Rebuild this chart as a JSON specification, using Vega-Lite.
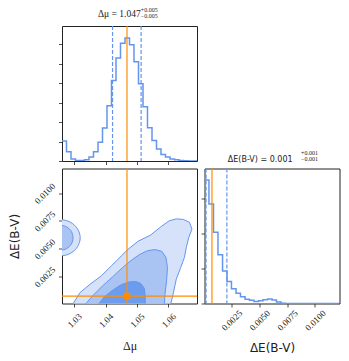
{
  "$schema": "https://vega.github.io/schema/vega-lite/v6.json",
  "background": "white",
  "padding": {"left": 7, "top": 6, "right": 5, "bottom": 5},
  "config": {
    "view": {"stroke": "#222", "strokeWidth": 1},
    "axis": {"domain": false, "grid": false, "tickColor": "#222", "tickSize": 3.5, "tickWidth": 0.8, "labelFont": "Liberation Serif", "labelFontSize": 9, "labelColor": "#222", "labelOverlap": false, "labelAngle": -45, "labelAlign": "center", "labelBaseline": "middle", "titleFont": "DejaVu Sans", "titleFontWeight": "normal", "titleColor": "#222"}
  },
  "datasets": {
    "contours": [
      {"s": "o", "i": 0, "x": 1.0295, "y": 0.0},
      {"s": "o", "i": 1, "x": 1.0318, "y": 0.00105},
      {"s": "o", "i": 2, "x": 1.0350, "y": 0.00180},
      {"s": "o", "i": 3, "x": 1.0386, "y": 0.00256},
      {"s": "o", "i": 4, "x": 1.0418, "y": 0.00345},
      {"s": "o", "i": 5, "x": 1.0450, "y": 0.00435},
      {"s": "o", "i": 6, "x": 1.0471, "y": 0.00494},
      {"s": "o", "i": 7, "x": 1.0504, "y": 0.00568},
      {"s": "o", "i": 8, "x": 1.0543, "y": 0.00622},
      {"s": "o", "i": 9, "x": 1.0575, "y": 0.00695},
      {"s": "o", "i": 10, "x": 1.0602, "y": 0.00750},
      {"s": "o", "i": 11, "x": 1.0625, "y": 0.00768},
      {"s": "o", "i": 12, "x": 1.0647, "y": 0.00763},
      {"s": "o", "i": 13, "x": 1.0667, "y": 0.00737},
      {"s": "o", "i": 14, "x": 1.0675, "y": 0.00676},
      {"s": "o", "i": 15, "x": 1.0665, "y": 0.00602},
      {"s": "o", "i": 16, "x": 1.0657, "y": 0.00512},
      {"s": "o", "i": 17, "x": 1.0651, "y": 0.00422},
      {"s": "o", "i": 18, "x": 1.0639, "y": 0.00331},
      {"s": "o", "i": 19, "x": 1.0625, "y": 0.00226},
      {"s": "o", "i": 20, "x": 1.0616, "y": 0.00105},
      {"s": "o", "i": 21, "x": 1.0607, "y": 0.0},
      {"s": "o", "i": 22, "x": 1.0602, "y": -0.001},
      {"s": "o", "i": 23, "x": 1.0290, "y": -0.001},
      {"s": "m", "i": 0, "x": 1.0335, "y": 0.0},
      {"s": "m", "i": 1, "x": 1.0358, "y": 0.00075},
      {"s": "m", "i": 2, "x": 1.0390, "y": 0.00166},
      {"s": "m", "i": 3, "x": 1.0422, "y": 0.00247},
      {"s": "m", "i": 4, "x": 1.0454, "y": 0.00331},
      {"s": "m", "i": 5, "x": 1.0480, "y": 0.00392},
      {"s": "m", "i": 6, "x": 1.0507, "y": 0.00446},
      {"s": "m", "i": 7, "x": 1.0533, "y": 0.00482},
      {"s": "m", "i": 8, "x": 1.0558, "y": 0.00492},
      {"s": "m", "i": 9, "x": 1.0579, "y": 0.00476},
      {"s": "m", "i": 10, "x": 1.0592, "y": 0.00422},
      {"s": "m", "i": 11, "x": 1.0597, "y": 0.00331},
      {"s": "m", "i": 12, "x": 1.0594, "y": 0.00211},
      {"s": "m", "i": 13, "x": 1.0589, "y": 0.0009},
      {"s": "m", "i": 14, "x": 1.0587, "y": 0.0},
      {"s": "m", "i": 15, "x": 1.0586, "y": -0.001},
      {"s": "m", "i": 16, "x": 1.0330, "y": -0.001},
      {"s": "d", "i": 0, "x": 1.0377, "y": 0.0},
      {"s": "d", "i": 1, "x": 1.0395, "y": 0.00066},
      {"s": "d", "i": 2, "x": 1.0422, "y": 0.00127},
      {"s": "d", "i": 3, "x": 1.0448, "y": 0.00175},
      {"s": "d", "i": 4, "x": 1.0474, "y": 0.00201},
      {"s": "d", "i": 5, "x": 1.0496, "y": 0.00205},
      {"s": "d", "i": 6, "x": 1.0512, "y": 0.00187},
      {"s": "d", "i": 7, "x": 1.0523, "y": 0.00145},
      {"s": "d", "i": 8, "x": 1.0526, "y": 0.00075},
      {"s": "d", "i": 9, "x": 1.0526, "y": 0.0},
      {"s": "d", "i": 10, "x": 1.0526, "y": -0.001},
      {"s": "d", "i": 11, "x": 1.0370, "y": -0.001},
      {"s": "bo", "i": 0, "x": 1.0319, "y": 0.00598},
      {"s": "bo", "i": 1, "x": 1.0310, "y": 0.00680},
      {"s": "bo", "i": 2, "x": 1.0287, "y": 0.00739},
      {"s": "bo", "i": 3, "x": 1.0255, "y": 0.00761},
      {"s": "bo", "i": 4, "x": 1.0223, "y": 0.00739},
      {"s": "bo", "i": 5, "x": 1.0200, "y": 0.00680},
      {"s": "bo", "i": 6, "x": 1.0191, "y": 0.00598},
      {"s": "bo", "i": 7, "x": 1.0200, "y": 0.00516},
      {"s": "bo", "i": 8, "x": 1.0223, "y": 0.00457},
      {"s": "bo", "i": 9, "x": 1.0255, "y": 0.00435},
      {"s": "bo", "i": 10, "x": 1.0287, "y": 0.00457},
      {"s": "bo", "i": 11, "x": 1.0310, "y": 0.00516},
      {"s": "bm", "i": 0, "x": 1.0296, "y": 0.00598},
      {"s": "bm", "i": 1, "x": 1.0291, "y": 0.00654},
      {"s": "bm", "i": 2, "x": 1.0276, "y": 0.00695},
      {"s": "bm", "i": 3, "x": 1.0255, "y": 0.00710},
      {"s": "bm", "i": 4, "x": 1.0235, "y": 0.00695},
      {"s": "bm", "i": 5, "x": 1.0219, "y": 0.00654},
      {"s": "bm", "i": 6, "x": 1.0214, "y": 0.00598},
      {"s": "bm", "i": 7, "x": 1.0219, "y": 0.00542},
      {"s": "bm", "i": 8, "x": 1.0235, "y": 0.00501},
      {"s": "bm", "i": 9, "x": 1.0255, "y": 0.00486},
      {"s": "bm", "i": 10, "x": 1.0276, "y": 0.00501},
      {"s": "bm", "i": 11, "x": 1.0291, "y": 0.00542}
    ]
  },
  "columns": 2,
  "spacing": 7.5,
  "bounds": "flush",
  "concat": [
    {
      "width": 135, "height": 135,
      "layer": [
        {
          "data": {"values": [
            {"x": 1.02610, "y": 1.03}, {"x": 1.02753, "y": 0.48}, {"x": 1.02897, "y": 0.10}, {"x": 1.03040, "y": 0.03},
            {"x": 1.03183, "y": 0.03}, {"x": 1.03327, "y": 0.06}, {"x": 1.03470, "y": 0.20}, {"x": 1.03613, "y": 0.48},
            {"x": 1.03757, "y": 0.96}, {"x": 1.03900, "y": 1.70}, {"x": 1.04043, "y": 2.84}, {"x": 1.04187, "y": 4.14},
            {"x": 1.04330, "y": 5.30}, {"x": 1.04473, "y": 6.05}, {"x": 1.04617, "y": 6.32}, {"x": 1.04760, "y": 5.98},
            {"x": 1.04903, "y": 5.10}, {"x": 1.05047, "y": 3.97}, {"x": 1.05190, "y": 2.79}, {"x": 1.05333, "y": 1.71},
            {"x": 1.05477, "y": 1.06}, {"x": 1.05620, "y": 0.62}, {"x": 1.05763, "y": 0.34}, {"x": 1.05907, "y": 0.20},
            {"x": 1.06050, "y": 0.10}, {"x": 1.06193, "y": 0.07}, {"x": 1.06337, "y": 0.03}, {"x": 1.06480, "y": 0.01},
            {"x": 1.06623, "y": 0.005}, {"x": 1.06767, "y": 0.0}, {"x": 1.06910, "y": 0.0}
          ]},
          "mark": {"type": "line", "interpolate": "step-after", "color": "#6495ED", "strokeWidth": 1.5, "clip": true},
          "encoding": {
            "x": {"field": "x", "type": "quantitative", "scale": {"domain": [1.0261, 1.0691], "nice": false, "zero": false}, "axis": {"values": [1.03, 1.04, 1.05, 1.06], "labels": false, "title": null}},
            "y": {"field": "y", "type": "quantitative", "scale": {"domain": [0, 6.94], "nice": false}, "axis": {"values": [0, 1, 2, 3, 4, 5, 6], "labels": false, "title": null}}
          }
        },
        {
          "data": {"values": [{"x": 1.0422}, {"x": 1.0513}]},
          "mark": {"type": "rule", "color": "#6495ED", "strokeDash": [4, 2], "strokeWidth": 1.2},
          "encoding": {"x": {"field": "x", "type": "quantitative", "axis": {"values": [1.03, 1.04, 1.05, 1.06], "labels": false, "title": null}}}
        },
        {
          "data": {"values": [{"x": 1.0468}]},
          "mark": {"type": "rule", "color": "#ff8c00", "strokeWidth": 1.2},
          "encoding": {"x": {"field": "x", "type": "quantitative", "axis": {"values": [1.03, 1.04, 1.05, 1.06], "labels": false, "title": null}}}
        },
        {
          "data": {"values": [{"x": 1.04435, "y": 7.40, "s": "Δμ = 1.047"}]},
          "mark": {"type": "text", "align": "center", "baseline": "alphabetic", "font": "Liberation Serif", "fontSize": 9.5, "color": "#222"},
          "encoding": {
            "x": {"field": "x", "type": "quantitative", "axis": {"values": [1.03, 1.04, 1.05, 1.06], "labels": false, "title": null}},
            "y": {"field": "y", "type": "quantitative", "axis": {"values": [0, 1, 2, 3, 4, 5, 6], "labels": false, "title": null}},
            "text": {"field": "s"}
          }
        },
        {
          "data": {"values": [{"x": 1.0512, "y": 7.75, "s": "+0.005"}, {"x": 1.0512, "y": 7.44, "s": "−0.005"}]},
          "mark": {"type": "text", "align": "left", "baseline": "middle", "font": "Liberation Serif", "fontSize": 6, "color": "#222"},
          "encoding": {
            "x": {"field": "x", "type": "quantitative", "axis": {"values": [1.03, 1.04, 1.05, 1.06], "labels": false, "title": null}},
            "y": {"field": "y", "type": "quantitative", "axis": {"values": [0, 1, 2, 3, 4, 5, 6], "labels": false, "title": null}},
            "text": {"field": "s"}
          }
        }
      ]
    },
    {
      "width": 135, "height": 135,
      "view": {"stroke": null},
      "data": {"values": []},
      "mark": "point"
    },
    {
      "width": 135, "height": 135,
      "encoding": {
        "x": {"field": "x", "type": "quantitative", "scale": {"domain": [1.0261, 1.0691], "nice": false, "zero": false},
              "axis": {"values": [1.03, 1.04, 1.05, 1.06], "format": ".2f", "labelAngle": -45, "labelAlign": "center", "labelBaseline": "middle", "labelPadding": 13, "title": "Δμ", "titleFont": "Liberation Serif", "titleFontSize": 12, "titleY": 46, "titleBaseline": "alphabetic"}},
        "y": {"field": "y", "type": "quantitative", "scale": {"domain": [0.00008, 0.0122], "nice": false, "zero": false},
              "axis": {"values": [0.0025, 0.005, 0.0075, 0.01], "format": ".4f", "labelAngle": -45, "labelAlign": "center", "labelBaseline": "middle", "labelPadding": 14, "title": "ΔE(B-V)", "titleFontSize": 12, "titleX": -44, "titleY": 67.5, "titleAlign": "center", "titleBaseline": "alphabetic"}}
      },
      "layer": [
        {
          "data": {"name": "contours"},
          "transform": [{"filter": "datum.s == 'o'"}],
          "mark": {"type": "line", "interpolate": "linear-closed", "fill": "#d6e2f9", "stroke": "#6495ED", "strokeWidth": 1, "clip": true},
          "encoding": {"order": {"field": "i", "type": "quantitative"}}
        },
        {
          "data": {"name": "contours"},
          "transform": [{"filter": "datum.s == 'bo'"}],
          "mark": {"type": "line", "interpolate": "cardinal-closed", "fill": "#d6e2f9", "stroke": "#6495ED", "strokeWidth": 1, "clip": true},
          "encoding": {"order": {"field": "i", "type": "quantitative"}}
        },
        {
          "data": {"name": "contours"},
          "transform": [{"filter": "datum.s == 'm'"}],
          "mark": {"type": "line", "interpolate": "linear-closed", "fill": "#a9c3f3", "stroke": "#6495ED", "strokeWidth": 1, "clip": true},
          "encoding": {"order": {"field": "i", "type": "quantitative"}}
        },
        {
          "data": {"name": "contours"},
          "transform": [{"filter": "datum.s == 'bm'"}],
          "mark": {"type": "line", "interpolate": "cardinal-closed", "fill": "#a9c3f3", "stroke": "#6495ED", "strokeWidth": 1, "clip": true},
          "encoding": {"order": {"field": "i", "type": "quantitative"}}
        },
        {
          "data": {"name": "contours"},
          "transform": [{"filter": "datum.s == 'd'"}],
          "mark": {"type": "line", "interpolate": "linear-closed", "fill": "#6c9cee", "stroke": "#6495ED", "strokeWidth": 1, "clip": true},
          "encoding": {"order": {"field": "i", "type": "quantitative"}}
        },
        {
          "data": {"values": [{"x": 1.0468, "y": 0.00075}]},
          "layer": [
            {"mark": {"type": "rule", "color": "#ff8c00", "strokeWidth": 1.2}, "encoding": {"y": null}},
            {"mark": {"type": "rule", "color": "#ff8c00", "strokeWidth": 1.2}, "encoding": {"x": null}},
            {"mark": {"type": "point", "shape": "square", "filled": true, "color": "#ff8c00", "size": 45, "opacity": 1}}
          ]
        }
      ]
    },
    {
      "width": 135, "height": 135,
      "layer": [
        {
          "data": {"values": [
            {"x": 0.00008, "y": 3.52}, {"x": 0.00048, "y": 2.84}, {"x": 0.00089, "y": 2.03}, {"x": 0.00129, "y": 1.39},
            {"x": 0.00170, "y": 0.93}, {"x": 0.00210, "y": 0.63}, {"x": 0.00250, "y": 0.42}, {"x": 0.00291, "y": 0.29},
            {"x": 0.00331, "y": 0.19}, {"x": 0.00372, "y": 0.12}, {"x": 0.00412, "y": 0.09}, {"x": 0.00452, "y": 0.06},
            {"x": 0.00493, "y": 0.08}, {"x": 0.00533, "y": 0.11}, {"x": 0.00574, "y": 0.13}, {"x": 0.00614, "y": 0.10},
            {"x": 0.00654, "y": 0.04}, {"x": 0.00695, "y": 0.01}, {"x": 0.00735, "y": 0.0}, {"x": 0.00776, "y": 0.0},
            {"x": 0.00816, "y": 0.0}, {"x": 0.00856, "y": 0.0}, {"x": 0.00897, "y": 0.0}, {"x": 0.00937, "y": 0.0},
            {"x": 0.00978, "y": 0.0}, {"x": 0.01018, "y": 0.0}, {"x": 0.01058, "y": 0.0}, {"x": 0.01099, "y": 0.0},
            {"x": 0.01139, "y": 0.0}, {"x": 0.01180, "y": 0.0}, {"x": 0.01220, "y": 0.0}
          ]},
          "mark": {"type": "line", "interpolate": "step-after", "color": "#6495ED", "strokeWidth": 1.5, "clip": true},
          "encoding": {
            "x": {"field": "x", "type": "quantitative", "scale": {"domain": [0.00008, 0.0122], "nice": false, "zero": false},
                  "axis": {"values": [0.0025, 0.005, 0.0075, 0.01], "format": ".4f", "labelAngle": -45, "labelAlign": "center", "labelBaseline": "middle", "labelPadding": 13, "title": "ΔE(B-V)", "titleFontSize": 12, "titleY": 48, "titleBaseline": "alphabetic"}},
            "y": {"field": "y", "type": "quantitative", "scale": {"domain": [0, 3.85], "nice": false}, "axis": {"values": [0, 1, 2, 3], "labels": false, "title": null}}
          }
        },
        {
          "data": {"values": [{"x": 0.00022}, {"x": 0.00209}]},
          "mark": {"type": "rule", "color": "#6495ED", "strokeDash": [4, 2], "strokeWidth": 1.2},
          "encoding": {"x": {"field": "x", "type": "quantitative", "axis": {"values": [0.0025, 0.005, 0.0075, 0.01], "format": ".4f", "labelAngle": -45, "labelAlign": "center", "labelBaseline": "middle", "labelPadding": 13, "title": "ΔE(B-V)", "titleFontSize": 12, "titleY": 48, "titleBaseline": "alphabetic"}}}
        },
        {
          "data": {"values": [{"x": 0.00075}]},
          "mark": {"type": "rule", "color": "#ff8c00", "strokeWidth": 1.2},
          "encoding": {"x": {"field": "x", "type": "quantitative", "axis": {"values": [0.0025, 0.005, 0.0075, 0.01], "format": ".4f", "labelAngle": -45, "labelAlign": "center", "labelBaseline": "middle", "labelPadding": 13, "title": "ΔE(B-V)", "titleFontSize": 12, "titleY": 48, "titleBaseline": "alphabetic"}}}
        },
        {
          "data": {"values": [{"x": 0.00508, "y": 4.044, "s": "ΔE(B-V) = 0.001"}]},
          "mark": {"type": "text", "align": "center", "baseline": "alphabetic", "font": "DejaVu Sans", "fontSize": 8, "color": "#222"},
          "encoding": {
            "x": {"field": "x", "type": "quantitative", "axis": {"values": [0.0025, 0.005, 0.0075, 0.01], "format": ".4f", "labelAngle": -45, "labelAlign": "center", "labelBaseline": "middle", "labelPadding": 13, "title": "ΔE(B-V)", "titleFontSize": 12, "titleY": 48, "titleBaseline": "alphabetic"}},
            "y": {"field": "y", "type": "quantitative", "axis": {"values": [0, 1, 2, 3], "labels": false, "title": null}},
            "text": {"field": "s"}
          }
        },
        {
          "data": {"values": [{"x": 0.00875, "y": 4.28, "s": "+0.001"}, {"x": 0.00875, "y": 4.11, "s": "−0.001"}]},
          "mark": {"type": "text", "align": "left", "baseline": "middle", "font": "Liberation Serif", "fontSize": 6, "color": "#222"},
          "encoding": {
            "x": {"field": "x", "type": "quantitative", "axis": {"values": [0.0025, 0.005, 0.0075, 0.01], "format": ".4f", "labelAngle": -45, "labelAlign": "center", "labelBaseline": "middle", "labelPadding": 13, "title": "ΔE(B-V)", "titleFontSize": 12, "titleY": 48, "titleBaseline": "alphabetic"}},
            "y": {"field": "y", "type": "quantitative", "axis": {"values": [0, 1, 2, 3], "labels": false, "title": null}},
            "text": {"field": "s"}
          }
        }
      ]
    }
  ]
}
